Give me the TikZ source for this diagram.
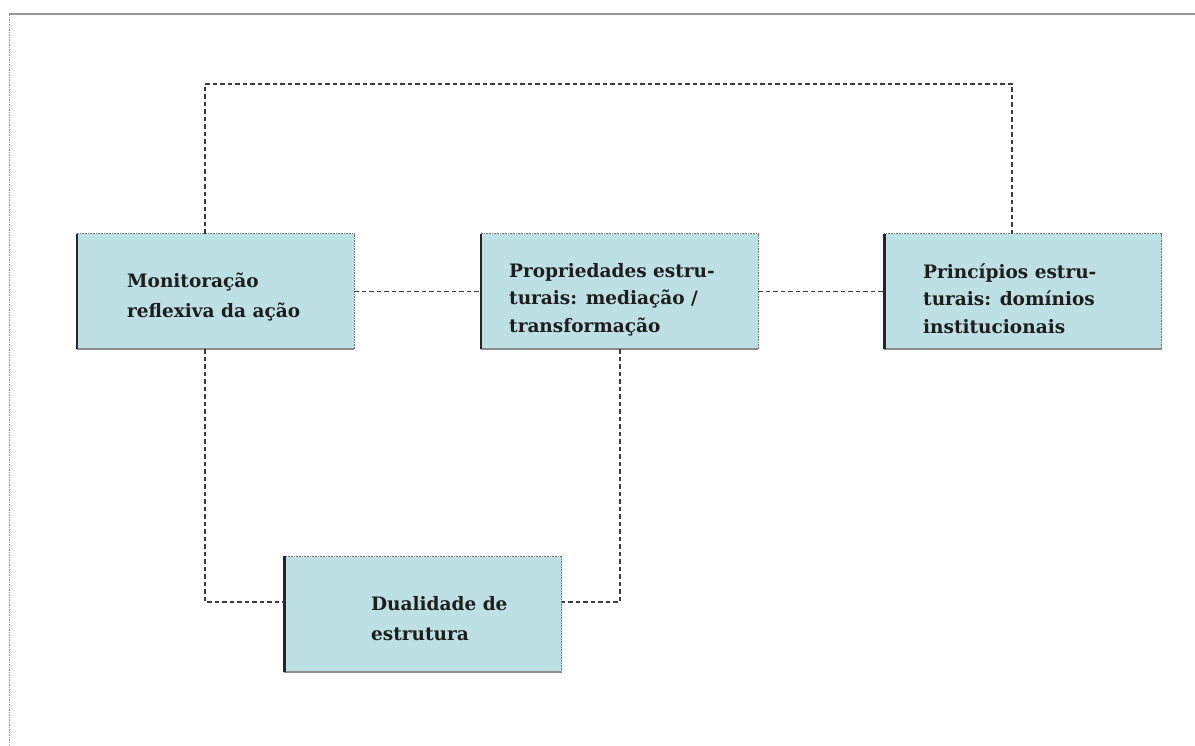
\documentclass[tikz,border=0pt]{standalone}
\usepackage{fontspec}
\setmainfont{DejaVu Serif}
\definecolor{boxfill}{RGB}{189,224,228}
\definecolor{txt}{RGB}{30,30,30}
\definecolor{conn}{RGB}{60,60,60}
\definecolor{frame}{RGB}{150,150,150}
\tikzset{
  box/.style={rectangle, fill=boxfill, draw=none, minimum width=277pt, minimum height=115pt, inner sep=0pt},
  label/.style={anchor=base west, inner sep=0pt, align=left, text=txt, font=\fontsize{18.5}{#1}\selectfont\bfseries},
  link/.style={draw=conn, line width=1.3pt, dash pattern=on 4.5pt off 3pt},
  thickedge/.style={draw=black!85, line width=2.5pt},
  grayedge/.style={draw=black!45, line width=2pt},
  thinedge/.style={draw=black!55, line width=0.8pt, dash pattern=on 1pt off 0.6pt},
}
\begin{document}
\begin{tikzpicture}[x=1pt,y=-1pt]
\useasboundingbox (0,0) rectangle (1195,745);
% page frame
\draw[draw=frame, line width=1.5pt] (9,14) -- (1195,14);
\draw[draw=frame, line width=0.8pt, dash pattern=on 1.5pt off 1pt] (9,14) -- (9,745);
% boxes
\node[box] (m) at (215.5,291.5) {};
\node[box] (p) at (619.5,291.5) {};
\node[box] (r) at (1023,291.5) {};
\node[box] (d) at (423,614) {};
% box edges
\foreach \n in {m,p,r,d}{
  \draw[thinedge] (\n.north west) -- (\n.north east) -- (\n.south east);
  \draw[grayedge] (\n.south west) -- (\n.south east);
  \draw[thickedge] (\n.north west) -- (\n.south west);
}
% texts (anchor = baseline of last line)
\node[label=30] (mt) at (127,317) {Monitoração\\reflexiva da ação};
\node[label=27.5] (pt) at (509,332) {Propriedades estru-\\turais: mediação /\\transformação};
\node[label=27.5] (rt) at (923,333) {Princípios estru-\\turais: domínios\\institucionais};
\node[label=30] (dt) at (371,640) {Dualidade de\\estrutura};
% connectors
\coordinate (top) at (205,84);
\draw[link] ([xshift=-10.5pt]m.north) -- (top) -| ([xshift=-11pt]r.north);
\draw[link] (m.east) -- (p.west);
\draw[link] (p.east) -- (r.west);
\draw[link] ([xshift=-10.5pt]m.south) |- ([yshift=12pt]d.west);
\draw[link] ([xshift=0.5pt]p.south) |- ([yshift=12pt]d.east);
\end{tikzpicture}
\end{document}
